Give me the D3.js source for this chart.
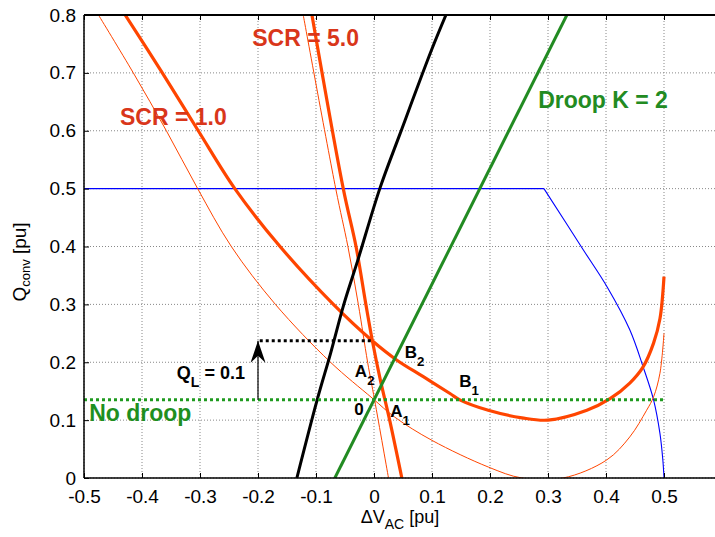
<!DOCTYPE html>
<html>
<head>
<meta charset="utf-8">
<script src="https://cdn.jsdelivr.net/npm/d3@7"></script>
<style>
  body { margin: 0; background: #fff; }
  svg { display: block; font-family: "Liberation Sans", Arial, sans-serif; }
  .grid line { stroke: #888; stroke-width: 1; stroke-dasharray: 1,2; }
  .axis path, .axis line { stroke: #000; }
  .axis text { font-size: 19px; fill: #000; }
</style>
</head>
<body>
<div id="chart"></div>
<script>
// tick values
const xTicks = [-0.5, -0.4, -0.3, -0.2, -0.1, 0, 0.1, 0.2, 0.3, 0.4, 0.5];
const yTicks = [0, 0.1, 0.2, 0.3, 0.4, 0.5, 0.6, 0.7, 0.8];

// curves: [dV_AC, Q_conv]
const scr1Thick = [[-0.429,0.8],[-0.365,0.7],[-0.303,0.6],[-0.24,0.5],[-0.162,0.4],[-0.07,0.3],
  [-0.004,0.238],[0.039,0.204],[0.085,0.175],[0.131,0.146],[0.148,0.135],[0.197,0.117],
  [0.255,0.104],[0.3,0.1],[0.367,0.117],[0.407,0.137],[0.441,0.164],[0.464,0.192],
  [0.482,0.233],[0.493,0.275],[0.5,0.348]];
const scr1Thin = [[-0.475,0.8],[-0.415,0.7],[-0.358,0.6],[-0.304,0.5],[-0.246,0.4],[-0.17,0.3],
  [-0.075,0.2],[-0.003,0.138],[0.036,0.105],[0.1,0.065],[0.197,0.019],[0.255,0],
  [0.326,0],[0.401,0.031],[0.441,0.071],[0.47,0.117],[0.482,0.14],[0.493,0.181],[0.5,0.25]];
const scr5Thick = [[-0.107,0.8],[-0.053,0.5],[-0.031,0.4],[-0.014,0.3],[-0.003,0.238],[0.011,0.169],[0.027,0.1],[0.048,0]];
const scr5Thin = [[-0.122,0.8],[-0.066,0.5],[-0.045,0.4],[-0.027,0.3],[-0.011,0.2],[0.001,0.135],[0.025,0]];
const blackCurve = [[-0.133,0],[-0.098,0.135],[-0.075,0.215],[-0.052,0.3],[-0.028,0.376],
  [0.01,0.5],[0.045,0.595],[0.099,0.739],[0.124,0.8]];
const limitFlat = [[-0.5,0.5],[0.293,0.5]];
const limitDrop = [[0.293,0.5],[0.361,0.394],[0.402,0.33],[0.441,0.256],[0.464,0.192],
  [0.482,0.135],[0.493,0.077],[0.498,0.031],[0.5,0]];
const droopLine = [[-0.0675,0],[0.3325,0.8]];
const noDroopLine = [[-0.5,0.135],[0.5,0.135]];
const qlLine = [[-0.197,0.237],[-0.004,0.237]];
const qlArrow = [[-0.2,0.135],[-0.2,0.237]];

const W = 715, H = 537;
const plotLeft = 84, plotTop = 15, plotBottom = 478;

const svg = d3.select('#chart').append('svg')
  .attr('width', W).attr('height', H);

const x = d3.scaleLinear().domain([-0.5, 0.6]).range([plotLeft, 722]);
const y = d3.scaleLinear().domain([0, 0.8]).range([plotBottom, plotTop]);

svg.append('clipPath').attr('id', 'plot')
  .append('rect').attr('x', plotLeft).attr('y', plotTop)
  .attr('width', W - plotLeft).attr('height', plotBottom - plotTop);

// grid
const grid = svg.append('g').attr('class', 'grid');
grid.selectAll('.gx').data(xTicks).enter().append('line')
  .attr('x1', d => x(d)).attr('x2', d => x(d)).attr('y1', plotTop).attr('y2', plotBottom);
grid.selectAll('.gy').data(yTicks).enter().append('line')
  .attr('x1', plotLeft).attr('x2', W).attr('y1', d => y(d)).attr('y2', d => y(d));

const plot = svg.append('g').attr('clip-path', 'url(#plot)');
const smooth = d3.line().x(d => x(d[0])).y(d => y(d[1])).curve(d3.curveCatmullRom.alpha(0.5));
const straight = d3.line().x(d => x(d[0])).y(d => y(d[1]));

const red = '#ff4500', green = '#228b22';

function draw(data, gen, color, w, dash) {
  plot.append('path').datum(data)
    .attr('d', gen)
    .attr('fill', 'none')
    .attr('stroke', color)
    .attr('stroke-width', w)
    .attr('stroke-linejoin', 'round')
    .attr('stroke-dasharray', dash || null);
}

draw(limitFlat, straight, '#0000ff', 1.1);
draw(limitDrop, smooth, '#0000ff', 1.1);
draw(scr1Thin, smooth, red, 1);
draw(scr5Thin, smooth, red, 1);
draw(scr1Thick, smooth, red, 3.2);
draw(scr5Thick, smooth, red, 3.2);
draw(blackCurve, smooth, '#000', 3);
draw(droopLine, straight, green, 3);
draw(noDroopLine, straight, '#1f9a1f', 3, '3,3');
draw(qlLine, straight, '#000', 3, '3,3');
draw(qlArrow, straight, '#000', 1.2);

// arrow head
const tip = [x(qlArrow[1][0]), y(qlArrow[1][1])];
svg.append('path')
  .attr('d', `M${tip[0]},${tip[1]} L${tip[0] + 7.5},${tip[1] + 22} L${tip[0]},${tip[1] + 15} L${tip[0] - 7.5},${tip[1] + 22} Z`)
  .attr('fill', '#000');

// axes
const fmt = d => d === 0 ? '0' : d.toFixed(1);
const xAxis = svg.append('g').attr('class', 'axis')
  .attr('transform', `translate(0,${plotBottom})`)
  .call(d3.axisBottom(x).tickValues(xTicks).tickFormat(fmt).tickSize(-5).tickPadding(12));
const topAxis = svg.append('g').attr('class', 'axis')
  .attr('transform', `translate(0,${plotTop})`)
  .call(d3.axisTop(x).tickValues(xTicks).tickFormat('').tickSize(-5));
const yAxis = svg.append('g').attr('class', 'axis')
  .attr('transform', `translate(${plotLeft},0)`)
  .call(d3.axisLeft(y).tickValues(yTicks).tickFormat(fmt).tickSize(-5).tickPadding(8));
[xAxis, topAxis, yAxis].forEach(a => a.select('.domain').remove());

svg.append('line').attr('x1', plotLeft).attr('x2', W).attr('y1', plotBottom).attr('y2', plotBottom)
  .attr('stroke', '#000').attr('stroke-width', 1.5);
svg.append('line').attr('x1', plotLeft).attr('x2', W).attr('y1', plotTop).attr('y2', plotTop)
  .attr('stroke', '#000').attr('stroke-width', 2);
svg.append('line').attr('x1', plotLeft).attr('x2', plotLeft).attr('y1', plotTop).attr('y2', plotBottom)
  .attr('stroke', '#000').attr('stroke-width', 1.5);

// axis titles
const yTitle = svg.append('text')
  .attr('transform', 'translate(26,262) rotate(-90)')
  .attr('text-anchor', 'middle').attr('font-size', 19);
yTitle.append('tspan').text('Q');
yTitle.append('tspan').attr('font-size', 13).attr('dy', 4).text('conv');
yTitle.append('tspan').attr('dy', -4).text(' [pu]');

const xTitle = svg.append('text')
  .attr('x', 400).attr('y', 523)
  .attr('text-anchor', 'middle').attr('font-size', 18);
xTitle.append('tspan').text('\u0394V');
xTitle.append('tspan').attr('font-size', 14).attr('dy', 6).text('AC');
xTitle.append('tspan').attr('dy', -6).text(' [pu]');

// annotations
function label(px, py, parts, color, size) {
  const t = svg.append('text')
    .attr('x', x(px)).attr('y', y(py))
    .attr('font-weight', 'bold').attr('font-size', size).attr('fill', color);
  parts.forEach(([s, sub], i) => {
    const sp = t.append('tspan').text(s);
    if (sub) sp.attr('font-size', size * 0.78).attr('dy', 8);
    else if (i > 0) sp.attr('dy', -8);
  });
}

label(-0.21, 0.746, [['SCR = 5.0']], '#d9361a', 23);
label(-0.438, 0.61, [['SCR = 1.0']], '#d9361a', 23);
label(0.283, 0.639, [['Droop K = 2']], green, 23);
label(-0.491, 0.098, [['No droop']], '#1f8f1f', 23);
label(-0.34, 0.171, [['Q'], ['L', true], [' = 0.1']], '#000', 18);
label(-0.033, 0.174, [['A'], ['2', true]], '#000', 17);
label(0.053, 0.207, [['B'], ['2', true]], '#000', 17);
label(0.147, 0.157, [['B'], ['1', true]], '#000', 17);
label(-0.034, 0.109, [['0']], '#000', 17);
label(0.028, 0.105, [['A'], ['1', true]], '#000', 17);
</script>
</body>
</html>
